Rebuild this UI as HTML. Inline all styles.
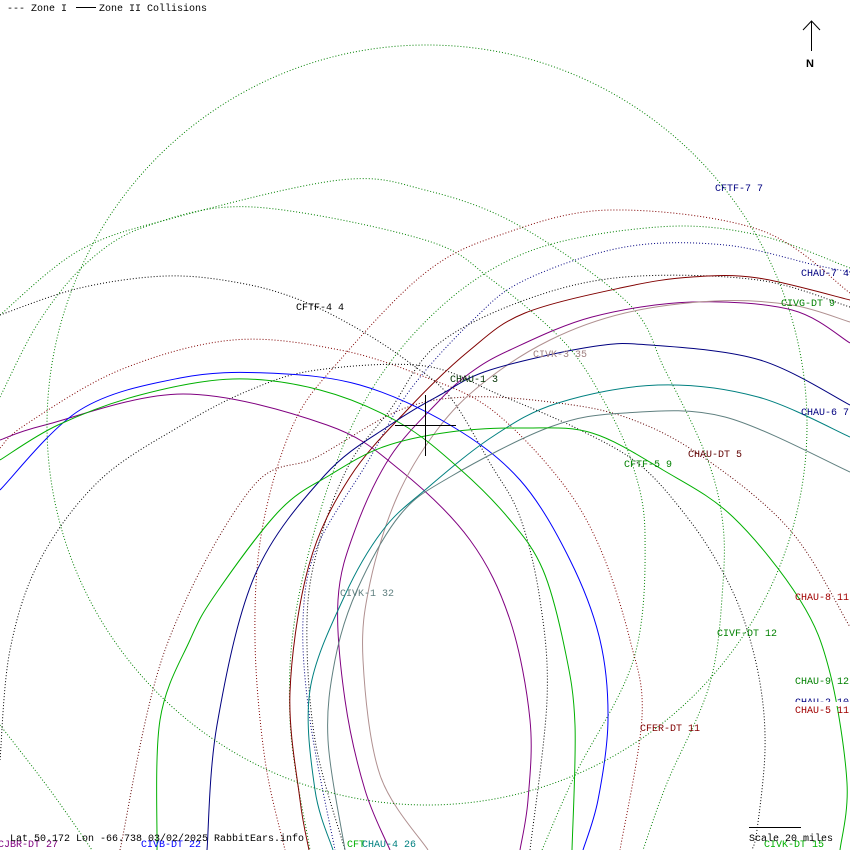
<!DOCTYPE html>
<html><head><meta charset="utf-8">
<style>
html,body{margin:0;padding:0;background:#fff;}
svg{display:block;}
text{font-family:"Liberation Mono","DejaVu Sans Mono",monospace;font-size:10px;}
</style></head>
<body>
<svg id="s" width="850" height="850" viewBox="0 0 850 850" xmlns="http://www.w3.org/2000/svg">
<rect width="850" height="850" fill="#fff"/>
<g id="curves" fill="none" stroke-width="1"></g>
<circle cx="427" cy="425" r="380" fill="none" stroke="#008000" stroke-dasharray="1 2"/>
<!-- crosshair -->
<line x1="395" y1="425.5" x2="456" y2="425.5" stroke="#000"/>
<line x1="425.5" y1="395" x2="425.5" y2="456" stroke="#000"/>
<!-- north arrow -->
<line x1="811.5" y1="21" x2="811.5" y2="51" stroke="#000"/>
<polyline points="803,30 811.5,21 820,30" fill="none" stroke="#000"/>
<text x="806" y="67" style="font-weight:bold;font-family:'Liberation Sans',sans-serif;font-size:11px">N</text>
<!-- legend -->
<text x="7" y="11" fill="#000">--- Zone I</text>
<line x1="76" y1="7.5" x2="96" y2="7.5" stroke="#000"/>
<text x="99" y="11" fill="#000">Zone II Collisions</text>
<!-- labels -->
<g>
<text x="715" y="191" fill="#000080">CFTF-7 7</text>
<text x="801" y="276" fill="#000080">CHAU-7 4</text>
<text x="781" y="306" fill="#008000">CIVG-DT 9</text>
<text x="533" y="357" fill="#a08080">CIVK-3 35</text>
<text x="450" y="382" fill="#003000">CHAU-1 3</text>
<text x="296" y="310" fill="#000">CFTF-4 4</text>
<text x="801" y="415" fill="#000080">CHAU-6 7</text>
<text x="688" y="457" fill="#600000">CHAU-DT 5</text>
<text x="624" y="467" fill="#008000">CFTF-5 9</text>
<text x="340" y="596" fill="#608080">CIVK-1 32</text>
<text x="795" y="600" fill="#a00000">CHAU-8 11</text>
<text x="717" y="636" fill="#008000">CIVF-DT 12</text>
<text x="795" y="684" fill="#008000">CHAU-9 12</text>
<text x="795" y="705" fill="#000080">CHAU-2 10</text>
<rect x="794" y="702" width="56" height="4" fill="#fff"/>
<text x="795" y="713" fill="#a00000">CHAU-5 11</text>
<text x="640" y="731" fill="#800000">CFER-DT 11</text>
<text x="-2" y="847" fill="#800080">CJBR-DT 27</text>
<text x="141" y="847" fill="#0000ff">CIVB-DT 22</text>
<text x="347" y="847" fill="#00b000">CFT</text>
<text x="362" y="847" fill="#008080">CHAU-4 26</text>
<text x="764" y="847" fill="#00b000">CIVK-DT 15</text>
<text x="10" y="841" fill="#000">Lat 50.172 Lon -66.738 03/02/2025 RabbitEars.info</text>
<line x1="749" y1="827.5" x2="801" y2="827.5" stroke="#000"/>
<text x="749" y="841" fill="#000">Scale 20 miles</text>
</g>
</svg>
<script>
var C=[
["#008000",1,[[0,315],[80,250],[177,217],[340,180],[425,190],[518,225],[628,303],[665,370],[705,453],[722,517],[723,583],[710,683],[667,783],[643,850]]],
["#008000",1,[[0,397],[40,320],[90,260],[150,225],[253,207],[425,240],[492,280],[565,343],[605,403],[632,463],[645,535],[634,658],[575,775],[542,850]]],
["#008000",1,[[850,268],[758,235],[658,227],[525,253],[425,322],[350,430],[300,590],[290,720],[310,850]]],
["#008000",1,[[0,725],[50,790],[92,850]]],
["#800000",1,[[850,293],[760,230],[610,210],[500,235],[425,273],[340,360],[293,425],[262,530],[255,640],[265,760],[285,850]]],
["#800000",1,[[0,448],[25,425],[120,370],[233,340],[340,350],[425,377],[492,410],[560,480],[600,548],[630,640],[642,717],[620,850]]],
["#600000",1,[[120,850],[165,650],[250,490],[317,457],[400,410],[467,397],[550,402],[625,417],[700,455],[790,530],[850,627]]],
["#000",1,[[0,315],[80,288],[167,276],[240,283],[300,300],[360,330],[410,363],[450,397],[490,463],[520,517],[540,600],[547,700],[530,850]]],
["#000",1,[[0,760],[10,650],[40,560],[100,480],[182,425],[250,390],[317,370],[425,366],[500,395],[580,430],[640,465],[687,517],[720,567],[743,617],[760,683],[765,750],[757,830],[752,850]]],
["#000080",1,[[850,272],[815,265],[725,245],[625,247],[525,280],[473,320],[410,390],[367,463],[317,547],[303,620],[310,720],[335,850]]],
["#000",1,[[850,307],[758,280],[625,277],[525,300],[437,345],[390,410],[350,463],[320,540],[307,620],[315,740],[345,850]]],
["#800000",0,[[850,300],[758,278],[692,277],[625,287],[525,313],[470,350],[410,407],[350,477],[309,565],[290,692],[300,800],[309,850]]],
["#800080",0,[[850,343],[792,310],[692,302],[592,317],[510,350],[470,373],[437,403],[390,457],[355,530],[338,600],[345,700],[365,790],[390,850]]],
["#800080",0,[[0,440],[45,425],[183,394],[327,425],[400,470],[470,540],[510,620],[530,720],[528,800],[520,850]]],
["#b09090",0,[[850,322],[792,305],[715,301],[625,313],[550,340],[483,383],[437,430],[397,497],[370,583],[363,660],[380,775],[428,850]]],
["#000080",0,[[850,405],[760,360],[650,345],[590,347],[490,370],[440,395],[390,425],[325,475],[255,575],[217,725],[207,850]]],
["#0000ff",0,[[0,490],[80,410],[180,378],[267,373],[360,385],[450,425],[520,480],[570,560],[600,640],[608,720],[598,800],[583,850]]],
["#008080",0,[[850,437],[758,397],[658,385],[558,403],[492,437],[425,490],[383,530],[345,595],[310,690],[315,790],[333,850]]],
["#608080",0,[[850,472],[725,417],[625,413],[550,427],[450,477],[400,515],[357,590],[335,660],[328,740],[345,850]]],
["#00b000",0,[[0,460],[58,425],[140,395],[233,379],[320,390],[400,423],[461,470],[510,520],[543,570],[565,650],[575,725],[572,850]]],
["#00b000",0,[[157,850],[160,720],[190,640],[217,592],[280,510],[330,475],[383,447],[450,432],[525,428],[592,433],[663,470],[733,517],[800,600],[830,673],[847,783],[840,850]]]
];
function cr(p){var d="M"+p[0][0]+","+p[0][1];for(var i=0;i<p.length-1;i++){var a=p[i-1]||p[i],b=p[i],c=p[i+1],e=p[i+2]||c;
d+=" C"+(b[0]+(c[0]-a[0])/6).toFixed(1)+","+(b[1]+(c[1]-a[1])/6).toFixed(1)+" "+(c[0]-(e[0]-b[0])/6).toFixed(1)+","+(c[1]-(e[1]-b[1])/6).toFixed(1)+" "+c[0]+","+c[1];}return d;}
var g=document.getElementById("curves"),ns="http://www.w3.org/2000/svg";
C.forEach(function(c){var p=document.createElementNS(ns,"path");p.setAttribute("d",cr(c[2]));p.setAttribute("stroke",c[0]);if(c[1])p.setAttribute("stroke-dasharray","1 2");g.appendChild(p);});
</script>
</body></html>
